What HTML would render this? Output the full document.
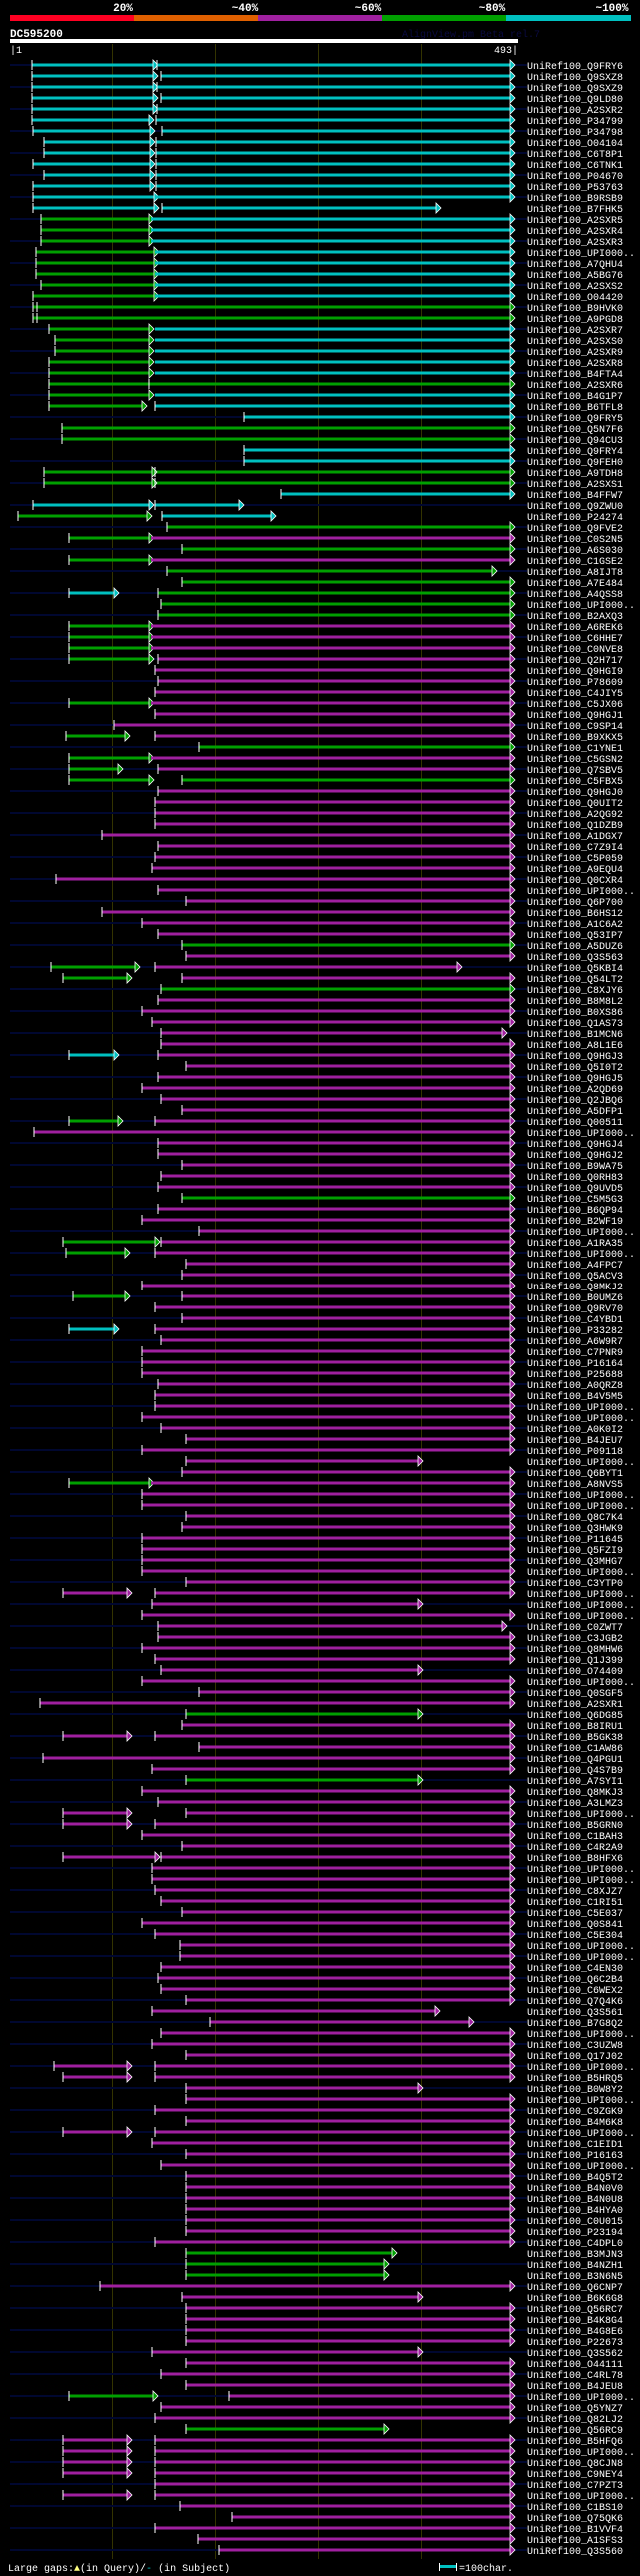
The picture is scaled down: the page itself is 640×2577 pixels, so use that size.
<!DOCTYPE html>
<html><head><meta charset="utf-8"><style>
html,body{margin:0;padding:0;background:#000;}
svg{display:block}
.c{fill:#00c0c0}.g{fill:#00a000}.m{fill:#a020a0}
text{font-family:"Liberation Mono","DejaVu Sans Mono",monospace;fill:#fff}
.l{font-size:10px}
</style></head><body>
<svg width="640" height="2577" viewBox="0 0 640 2577" xmlns="http://www.w3.org/2000/svg">
<defs>
<rect id="T" x="-0.5" y="-5" width="1" height="10" fill="#fff"/>
<polygon id="Ac" points="0,-5 5,0 0,5" fill="#00c0c0" stroke="#fff" stroke-width="0.8"/>
<polygon id="Ag" points="0,-5 5,0 0,5" fill="#00a000" stroke="#fff" stroke-width="0.8"/>
<polygon id="Am" points="0,-5 5,0 0,5" fill="#a020a0" stroke="#fff" stroke-width="0.8"/>
<rect id="N" x="10" y="-1" width="517" height="2" fill="#000730"/>
</defs>
<rect width="640" height="2577" fill="#000"/>
<!-- header -->
<g font-family="Liberation Mono,monospace" font-weight="bold" font-size="11" fill="#fff" text-anchor="middle">
<text x="123" y="11">20%</text><text x="245" y="11">~40%</text><text x="368" y="11">~60%</text><text x="492" y="11">~80%</text><text x="612" y="11">~100%</text>
</g>
<rect x="10" y="15" width="124" height="6" fill="#ff0022"/>
<rect x="134" y="15" width="124" height="6" fill="#e06000"/>
<rect x="258" y="15" width="124" height="6" fill="#a020a0"/>
<rect x="382" y="15" width="124" height="6" fill="#00a000"/>
<rect x="506" y="15" width="125" height="6" fill="#00c0c0"/>
<text x="10" y="37" font-size="11" font-weight="bold">DC595200</text>
<text x="402" y="37" font-size="10" style="fill:#0a0a40">AlignView.pm Beta rel.7</text>
<rect x="10" y="39" width="508" height="4" fill="#fff"/>
<text x="10" y="53" font-size="10">|1</text>
<text x="518" y="53" font-size="10" text-anchor="end">493|</text>
<g fill="#333300">
<rect x="112" y="44" width="1" height="2516"/><rect x="215" y="44" width="1" height="2516"/><rect x="318" y="44" width="1" height="2516"/><rect x="421" y="44" width="1" height="2516"/>
</g>

<g transform="translate(0,65)"><use href="#N"/><rect class="c" x="32" y="-1.5" width="121" height="3"/><use href="#T" x="32"/><use href="#Ac" x="153"/><rect class="c" x="157" y="-1.5" width="353" height="3"/><use href="#T" x="157"/><use href="#Ac" x="510"/><text class="l" x="527" y="4">UniRef100_Q9FRY6</text></g>
<g transform="translate(0,76)"><rect class="c" x="32" y="-1.5" width="121" height="3"/><use href="#T" x="32"/><use href="#Ac" x="153"/><rect class="c" x="161" y="-1.5" width="349" height="3"/><use href="#T" x="161"/><use href="#Ac" x="510"/><text class="l" x="527" y="4">UniRef100_Q9SXZ8</text></g>
<g transform="translate(0,87)"><use href="#N"/><rect class="c" x="32" y="-1.5" width="121" height="3"/><use href="#T" x="32"/><use href="#Ac" x="153"/><rect class="c" x="157" y="-1.5" width="353" height="3"/><use href="#T" x="157"/><use href="#Ac" x="510"/><text class="l" x="527" y="4">UniRef100_Q9SXZ9</text></g>
<g transform="translate(0,98)"><rect class="c" x="32" y="-1.5" width="121" height="3"/><use href="#T" x="32"/><use href="#Ac" x="153"/><rect class="c" x="161" y="-1.5" width="349" height="3"/><use href="#T" x="161"/><use href="#Ac" x="510"/><text class="l" x="527" y="4">UniRef100_Q9LD80</text></g>
<g transform="translate(0,109)"><use href="#N"/><rect class="c" x="32" y="-1.5" width="121" height="3"/><use href="#T" x="32"/><use href="#Ac" x="153"/><rect class="c" x="157" y="-1.5" width="353" height="3"/><use href="#T" x="157"/><use href="#Ac" x="510"/><text class="l" x="527" y="4">UniRef100_A2SXR2</text></g>
<g transform="translate(0,120)"><rect class="c" x="32" y="-1.5" width="117" height="3"/><use href="#T" x="32"/><use href="#Ac" x="149"/><rect class="c" x="156" y="-1.5" width="354" height="3"/><use href="#T" x="156"/><use href="#Ac" x="510"/><text class="l" x="527" y="4">UniRef100_P34799</text></g>
<g transform="translate(0,131)"><use href="#N"/><rect class="c" x="33" y="-1.5" width="117" height="3"/><use href="#T" x="33"/><use href="#Ac" x="150"/><rect class="c" x="162" y="-1.5" width="348" height="3"/><use href="#T" x="162"/><use href="#Ac" x="510"/><text class="l" x="527" y="4">UniRef100_P34798</text></g>
<g transform="translate(0,142)"><rect class="c" x="44" y="-1.5" width="106" height="3"/><use href="#T" x="44"/><use href="#Ac" x="150"/><rect class="c" x="156" y="-1.5" width="354" height="3"/><use href="#T" x="156"/><use href="#Ac" x="510"/><text class="l" x="527" y="4">UniRef100_O04104</text></g>
<g transform="translate(0,153)"><use href="#N"/><rect class="c" x="44" y="-1.5" width="106" height="3"/><use href="#T" x="44"/><use href="#Ac" x="150"/><rect class="c" x="156" y="-1.5" width="354" height="3"/><use href="#T" x="156"/><use href="#Ac" x="510"/><text class="l" x="527" y="4">UniRef100_C6T8P1</text></g>
<g transform="translate(0,164)"><rect class="c" x="33" y="-1.5" width="117" height="3"/><use href="#T" x="33"/><use href="#Ac" x="150"/><rect class="c" x="156" y="-1.5" width="354" height="3"/><use href="#T" x="156"/><use href="#Ac" x="510"/><text class="l" x="527" y="4">UniRef100_C6TNK1</text></g>
<g transform="translate(0,175)"><use href="#N"/><rect class="c" x="44" y="-1.5" width="106" height="3"/><use href="#T" x="44"/><use href="#Ac" x="150"/><rect class="c" x="156" y="-1.5" width="354" height="3"/><use href="#T" x="156"/><use href="#Ac" x="510"/><text class="l" x="527" y="4">UniRef100_P04670</text></g>
<g transform="translate(0,186)"><rect class="c" x="33" y="-1.5" width="117" height="3"/><use href="#T" x="33"/><use href="#Ac" x="150"/><rect class="c" x="156" y="-1.5" width="354" height="3"/><use href="#T" x="156"/><use href="#Ac" x="510"/><text class="l" x="527" y="4">UniRef100_P53763</text></g>
<g transform="translate(0,197)"><use href="#N"/><rect class="c" x="33" y="-1.5" width="121" height="3"/><use href="#T" x="33"/><use href="#Ac" x="154"/><rect class="c" x="155" y="-1.5" width="355" height="3"/><use href="#Ac" x="510"/><text class="l" x="527" y="4">UniRef100_B9RSB9</text></g>
<g transform="translate(0,208)"><rect class="c" x="33" y="-1.5" width="121" height="3"/><use href="#T" x="33"/><use href="#Ac" x="154"/><rect class="c" x="162" y="-1.5" width="274" height="3"/><use href="#T" x="162"/><use href="#Ac" x="436"/><text class="l" x="527" y="4">UniRef100_B7FHK5</text></g>
<g transform="translate(0,219)"><use href="#N"/><rect class="g" x="41" y="-1.5" width="108" height="3"/><use href="#T" x="41"/><use href="#Ag" x="149"/><rect class="c" x="151" y="-1.5" width="359" height="3"/><use href="#Ac" x="510"/><text class="l" x="527" y="4">UniRef100_A2SXR5</text></g>
<g transform="translate(0,230)"><rect class="g" x="41" y="-1.5" width="108" height="3"/><use href="#T" x="41"/><use href="#Ag" x="149"/><rect class="c" x="151" y="-1.5" width="359" height="3"/><use href="#Ac" x="510"/><text class="l" x="527" y="4">UniRef100_A2SXR4</text></g>
<g transform="translate(0,241)"><use href="#N"/><rect class="g" x="41" y="-1.5" width="108" height="3"/><use href="#T" x="41"/><use href="#Ag" x="149"/><rect class="c" x="151" y="-1.5" width="359" height="3"/><use href="#Ac" x="510"/><text class="l" x="527" y="4">UniRef100_A2SXR3</text></g>
<g transform="translate(0,252)"><rect class="g" x="36" y="-1.5" width="118" height="3"/><use href="#T" x="36"/><use href="#Ag" x="154"/><rect class="c" x="155" y="-1.5" width="355" height="3"/><use href="#Ac" x="510"/><text class="l" x="527" y="4">UniRef100_UPI000..</text></g>
<g transform="translate(0,263)"><use href="#N"/><rect class="g" x="36" y="-1.5" width="118" height="3"/><use href="#T" x="36"/><use href="#Ag" x="154"/><rect class="c" x="155" y="-1.5" width="355" height="3"/><use href="#Ac" x="510"/><text class="l" x="527" y="4">UniRef100_A7QHU4</text></g>
<g transform="translate(0,274)"><rect class="g" x="36" y="-1.5" width="118" height="3"/><use href="#T" x="36"/><use href="#Ag" x="154"/><rect class="c" x="155" y="-1.5" width="355" height="3"/><use href="#Ac" x="510"/><text class="l" x="527" y="4">UniRef100_A5BG76</text></g>
<g transform="translate(0,285)"><use href="#N"/><rect class="g" x="41" y="-1.5" width="113" height="3"/><use href="#T" x="41"/><use href="#Ag" x="154"/><rect class="c" x="155" y="-1.5" width="355" height="3"/><use href="#Ac" x="510"/><text class="l" x="527" y="4">UniRef100_A2SXS2</text></g>
<g transform="translate(0,296)"><rect class="g" x="33" y="-1.5" width="121" height="3"/><use href="#T" x="33"/><use href="#Ag" x="154"/><rect class="c" x="155" y="-1.5" width="355" height="3"/><use href="#Ac" x="510"/><text class="l" x="527" y="4">UniRef100_O04420</text></g>
<g transform="translate(0,307)"><use href="#N"/><rect class="g" x="33" y="-1.5" width="477" height="3"/><use href="#T" x="33"/><use href="#T" x="37"/><use href="#Ag" x="510"/><text class="l" x="527" y="4">UniRef100_B9HVK0</text></g>
<g transform="translate(0,318)"><rect class="g" x="33" y="-1.5" width="477" height="3"/><use href="#T" x="33"/><use href="#T" x="37"/><use href="#Ag" x="510"/><text class="l" x="527" y="4">UniRef100_A9PGD8</text></g>
<g transform="translate(0,329)"><use href="#N"/><rect class="g" x="49" y="-1.5" width="100" height="3"/><use href="#T" x="49"/><use href="#Ag" x="149"/><rect class="c" x="155" y="-1.5" width="355" height="3"/><use href="#Ac" x="510"/><text class="l" x="527" y="4">UniRef100_A2SXR7</text></g>
<g transform="translate(0,340)"><rect class="g" x="55" y="-1.5" width="94" height="3"/><use href="#T" x="55"/><use href="#Ag" x="149"/><rect class="c" x="155" y="-1.5" width="355" height="3"/><use href="#Ac" x="510"/><text class="l" x="527" y="4">UniRef100_A2SXS0</text></g>
<g transform="translate(0,351)"><use href="#N"/><rect class="g" x="55" y="-1.5" width="94" height="3"/><use href="#T" x="55"/><use href="#Ag" x="149"/><rect class="c" x="155" y="-1.5" width="355" height="3"/><use href="#Ac" x="510"/><text class="l" x="527" y="4">UniRef100_A2SXR9</text></g>
<g transform="translate(0,362)"><rect class="g" x="49" y="-1.5" width="100" height="3"/><use href="#T" x="49"/><use href="#Ag" x="149"/><rect class="c" x="155" y="-1.5" width="355" height="3"/><use href="#Ac" x="510"/><text class="l" x="527" y="4">UniRef100_A2SXR8</text></g>
<g transform="translate(0,373)"><use href="#N"/><rect class="g" x="49" y="-1.5" width="100" height="3"/><use href="#T" x="49"/><use href="#Ag" x="149"/><rect class="c" x="155" y="-1.5" width="355" height="3"/><use href="#Ac" x="510"/><text class="l" x="527" y="4">UniRef100_B4FTA4</text></g>
<g transform="translate(0,384)"><rect class="g" x="49" y="-1.5" width="461" height="3"/><use href="#T" x="49"/><use href="#T" x="149"/><use href="#Ag" x="510"/><text class="l" x="527" y="4">UniRef100_A2SXR6</text></g>
<g transform="translate(0,395)"><use href="#N"/><rect class="g" x="49" y="-1.5" width="100" height="3"/><use href="#T" x="49"/><use href="#Ag" x="149"/><rect class="c" x="155" y="-1.5" width="355" height="3"/><use href="#Ac" x="510"/><text class="l" x="527" y="4">UniRef100_B4G1P7</text></g>
<g transform="translate(0,406)"><rect class="g" x="49" y="-1.5" width="93" height="3"/><use href="#T" x="49"/><use href="#Ag" x="142"/><rect class="c" x="155" y="-1.5" width="355" height="3"/><use href="#T" x="155"/><use href="#Ac" x="510"/><text class="l" x="527" y="4">UniRef100_B6TFL8</text></g>
<g transform="translate(0,417)"><use href="#N"/><rect class="c" x="244" y="-1.5" width="266" height="3"/><use href="#T" x="244"/><use href="#Ac" x="510"/><text class="l" x="527" y="4">UniRef100_Q9FRY5</text></g>
<g transform="translate(0,428)"><rect class="g" x="62" y="-1.5" width="448" height="3"/><use href="#T" x="62"/><use href="#Ag" x="510"/><text class="l" x="527" y="4">UniRef100_Q5N7F6</text></g>
<g transform="translate(0,439)"><use href="#N"/><rect class="g" x="62" y="-1.5" width="448" height="3"/><use href="#T" x="62"/><use href="#Ag" x="510"/><text class="l" x="527" y="4">UniRef100_Q94CU3</text></g>
<g transform="translate(0,450)"><rect class="c" x="244" y="-1.5" width="266" height="3"/><use href="#T" x="244"/><use href="#Ac" x="510"/><text class="l" x="527" y="4">UniRef100_Q9FRY4</text></g>
<g transform="translate(0,461)"><use href="#N"/><rect class="c" x="244" y="-1.5" width="266" height="3"/><use href="#T" x="244"/><use href="#Ac" x="510"/><text class="l" x="527" y="4">UniRef100_Q9FEH0</text></g>
<g transform="translate(0,472)"><rect class="g" x="44" y="-1.5" width="466" height="3"/><use href="#T" x="44"/><use href="#Ag" x="152"/><use href="#T" x="155"/><use href="#Ag" x="510"/><text class="l" x="527" y="4">UniRef100_A9TDH8</text></g>
<g transform="translate(0,483)"><use href="#N"/><rect class="g" x="44" y="-1.5" width="466" height="3"/><use href="#T" x="44"/><use href="#Ag" x="152"/><use href="#T" x="155"/><use href="#Ag" x="510"/><text class="l" x="527" y="4">UniRef100_A2SXS1</text></g>
<g transform="translate(0,494)"><rect class="c" x="281" y="-1.5" width="229" height="3"/><use href="#T" x="281"/><use href="#Ac" x="510"/><text class="l" x="527" y="4">UniRef100_B4FFW7</text></g>
<g transform="translate(0,505)"><use href="#N"/><rect class="c" x="33" y="-1.5" width="116" height="3"/><use href="#T" x="33"/><use href="#Ac" x="149"/><rect class="c" x="155" y="-1.5" width="84" height="3"/><use href="#T" x="155"/><use href="#Ac" x="239"/><text class="l" x="527" y="4">UniRef100_Q9ZWU0</text></g>
<g transform="translate(0,516)"><rect class="g" x="18" y="-1.5" width="129" height="3"/><use href="#T" x="18"/><use href="#Ag" x="147"/><rect class="c" x="162" y="-1.5" width="109" height="3"/><use href="#T" x="162"/><use href="#Ac" x="271"/><text class="l" x="527" y="4">UniRef100_P24274</text></g>
<g transform="translate(0,527)"><use href="#N"/><rect class="g" x="167" y="-1.5" width="343" height="3"/><use href="#T" x="167"/><use href="#Ag" x="510"/><text class="l" x="527" y="4">UniRef100_Q9FVE2</text></g>
<g transform="translate(0,538)"><rect class="g" x="69" y="-1.5" width="80" height="3"/><use href="#T" x="69"/><use href="#Ag" x="149"/><rect class="m" x="151" y="-1.5" width="359" height="3"/><use href="#Am" x="510"/><text class="l" x="527" y="4">UniRef100_C0S2N5</text></g>
<g transform="translate(0,549)"><use href="#N"/><rect class="g" x="182" y="-1.5" width="328" height="3"/><use href="#T" x="182"/><use href="#Ag" x="510"/><text class="l" x="527" y="4">UniRef100_A6S030</text></g>
<g transform="translate(0,560)"><rect class="g" x="69" y="-1.5" width="80" height="3"/><use href="#T" x="69"/><use href="#Ag" x="149"/><rect class="m" x="151" y="-1.5" width="359" height="3"/><use href="#Am" x="510"/><text class="l" x="527" y="4">UniRef100_C1GSE2</text></g>
<g transform="translate(0,571)"><use href="#N"/><rect class="g" x="167" y="-1.5" width="325" height="3"/><use href="#T" x="167"/><use href="#Ag" x="492"/><text class="l" x="527" y="4">UniRef100_A8IJT8</text></g>
<g transform="translate(0,582)"><rect class="g" x="182" y="-1.5" width="328" height="3"/><use href="#T" x="182"/><use href="#Ag" x="510"/><text class="l" x="527" y="4">UniRef100_A7E484</text></g>
<g transform="translate(0,593)"><use href="#N"/><rect class="c" x="69" y="-1.5" width="45" height="3"/><use href="#T" x="69"/><use href="#Ac" x="114"/><rect class="g" x="158" y="-1.5" width="352" height="3"/><use href="#T" x="158"/><use href="#Ag" x="510"/><text class="l" x="527" y="4">UniRef100_A4QSS8</text></g>
<g transform="translate(0,604)"><rect class="g" x="161" y="-1.5" width="349" height="3"/><use href="#T" x="161"/><use href="#Ag" x="510"/><text class="l" x="527" y="4">UniRef100_UPI000..</text></g>
<g transform="translate(0,615)"><use href="#N"/><rect class="g" x="158" y="-1.5" width="352" height="3"/><use href="#T" x="158"/><use href="#Ag" x="510"/><text class="l" x="527" y="4">UniRef100_B2AXQ3</text></g>
<g transform="translate(0,626)"><rect class="g" x="69" y="-1.5" width="80" height="3"/><use href="#T" x="69"/><use href="#Ag" x="149"/><rect class="m" x="151" y="-1.5" width="359" height="3"/><use href="#Am" x="510"/><text class="l" x="527" y="4">UniRef100_A6REK6</text></g>
<g transform="translate(0,637)"><use href="#N"/><rect class="g" x="69" y="-1.5" width="80" height="3"/><use href="#T" x="69"/><use href="#Ag" x="149"/><rect class="m" x="151" y="-1.5" width="359" height="3"/><use href="#Am" x="510"/><text class="l" x="527" y="4">UniRef100_C6HHE7</text></g>
<g transform="translate(0,648)"><rect class="g" x="69" y="-1.5" width="80" height="3"/><use href="#T" x="69"/><use href="#Ag" x="149"/><rect class="m" x="151" y="-1.5" width="359" height="3"/><use href="#Am" x="510"/><text class="l" x="527" y="4">UniRef100_C0NVE8</text></g>
<g transform="translate(0,659)"><use href="#N"/><rect class="g" x="69" y="-1.5" width="80" height="3"/><use href="#T" x="69"/><use href="#Ag" x="149"/><rect class="m" x="158" y="-1.5" width="352" height="3"/><use href="#T" x="158"/><use href="#Am" x="510"/><text class="l" x="527" y="4">UniRef100_Q2H717</text></g>
<g transform="translate(0,670)"><rect class="m" x="155" y="-1.5" width="355" height="3"/><use href="#T" x="155"/><use href="#Am" x="510"/><text class="l" x="527" y="4">UniRef100_Q9HGI9</text></g>
<g transform="translate(0,681)"><use href="#N"/><rect class="m" x="158" y="-1.5" width="352" height="3"/><use href="#T" x="158"/><use href="#Am" x="510"/><text class="l" x="527" y="4">UniRef100_P78609</text></g>
<g transform="translate(0,692)"><rect class="m" x="155" y="-1.5" width="355" height="3"/><use href="#T" x="155"/><use href="#Am" x="510"/><text class="l" x="527" y="4">UniRef100_C4JIY5</text></g>
<g transform="translate(0,703)"><use href="#N"/><rect class="g" x="69" y="-1.5" width="80" height="3"/><use href="#T" x="69"/><use href="#Ag" x="149"/><rect class="m" x="151" y="-1.5" width="359" height="3"/><use href="#Am" x="510"/><text class="l" x="527" y="4">UniRef100_C5JX06</text></g>
<g transform="translate(0,714)"><rect class="m" x="155" y="-1.5" width="355" height="3"/><use href="#T" x="155"/><use href="#Am" x="510"/><text class="l" x="527" y="4">UniRef100_Q9HGJ1</text></g>
<g transform="translate(0,725)"><use href="#N"/><rect class="m" x="114" y="-1.5" width="396" height="3"/><use href="#T" x="114"/><use href="#Am" x="510"/><text class="l" x="527" y="4">UniRef100_C9SP14</text></g>
<g transform="translate(0,736)"><rect class="g" x="66" y="-1.5" width="59" height="3"/><use href="#T" x="66"/><use href="#Ag" x="125"/><rect class="m" x="155" y="-1.5" width="355" height="3"/><use href="#T" x="155"/><use href="#Am" x="510"/><text class="l" x="527" y="4">UniRef100_B9XKX5</text></g>
<g transform="translate(0,747)"><use href="#N"/><rect class="g" x="199" y="-1.5" width="311" height="3"/><use href="#T" x="199"/><use href="#Ag" x="510"/><text class="l" x="527" y="4">UniRef100_C1YNE1</text></g>
<g transform="translate(0,758)"><rect class="g" x="69" y="-1.5" width="80" height="3"/><use href="#T" x="69"/><use href="#Ag" x="149"/><rect class="m" x="151" y="-1.5" width="359" height="3"/><use href="#Am" x="510"/><text class="l" x="527" y="4">UniRef100_C5GSN2</text></g>
<g transform="translate(0,769)"><use href="#N"/><rect class="g" x="69" y="-1.5" width="49" height="3"/><use href="#T" x="69"/><use href="#Ag" x="118"/><rect class="m" x="158" y="-1.5" width="352" height="3"/><use href="#T" x="158"/><use href="#Am" x="510"/><text class="l" x="527" y="4">UniRef100_Q7SBV5</text></g>
<g transform="translate(0,780)"><rect class="g" x="69" y="-1.5" width="80" height="3"/><use href="#T" x="69"/><use href="#Ag" x="149"/><rect class="g" x="182" y="-1.5" width="328" height="3"/><use href="#T" x="182"/><use href="#Ag" x="510"/><text class="l" x="527" y="4">UniRef100_C5FBX5</text></g>
<g transform="translate(0,791)"><use href="#N"/><rect class="m" x="158" y="-1.5" width="352" height="3"/><use href="#T" x="158"/><use href="#Am" x="510"/><text class="l" x="527" y="4">UniRef100_Q9HGJ0</text></g>
<g transform="translate(0,802)"><rect class="m" x="155" y="-1.5" width="355" height="3"/><use href="#T" x="155"/><use href="#Am" x="510"/><text class="l" x="527" y="4">UniRef100_Q0UIT2</text></g>
<g transform="translate(0,813)"><use href="#N"/><rect class="m" x="155" y="-1.5" width="355" height="3"/><use href="#T" x="155"/><use href="#Am" x="510"/><text class="l" x="527" y="4">UniRef100_A2QG92</text></g>
<g transform="translate(0,824)"><rect class="m" x="155" y="-1.5" width="355" height="3"/><use href="#T" x="155"/><use href="#Am" x="510"/><text class="l" x="527" y="4">UniRef100_Q1DZB9</text></g>
<g transform="translate(0,835)"><use href="#N"/><rect class="m" x="102" y="-1.5" width="408" height="3"/><use href="#T" x="102"/><use href="#Am" x="510"/><text class="l" x="527" y="4">UniRef100_A1DGX7</text></g>
<g transform="translate(0,846)"><rect class="m" x="158" y="-1.5" width="352" height="3"/><use href="#T" x="158"/><use href="#Am" x="510"/><text class="l" x="527" y="4">UniRef100_C7Z9I4</text></g>
<g transform="translate(0,857)"><use href="#N"/><rect class="m" x="155" y="-1.5" width="355" height="3"/><use href="#T" x="155"/><use href="#Am" x="510"/><text class="l" x="527" y="4">UniRef100_C5P059</text></g>
<g transform="translate(0,868)"><rect class="m" x="152" y="-1.5" width="358" height="3"/><use href="#T" x="152"/><use href="#Am" x="510"/><text class="l" x="527" y="4">UniRef100_A9EQU4</text></g>
<g transform="translate(0,879)"><use href="#N"/><rect class="m" x="56" y="-1.5" width="454" height="3"/><use href="#T" x="56"/><use href="#Am" x="510"/><text class="l" x="527" y="4">UniRef100_Q0CXR4</text></g>
<g transform="translate(0,890)"><rect class="m" x="158" y="-1.5" width="352" height="3"/><use href="#T" x="158"/><use href="#Am" x="510"/><text class="l" x="527" y="4">UniRef100_UPI000..</text></g>
<g transform="translate(0,901)"><use href="#N"/><rect class="m" x="186" y="-1.5" width="324" height="3"/><use href="#T" x="186"/><use href="#Am" x="510"/><text class="l" x="527" y="4">UniRef100_Q6P700</text></g>
<g transform="translate(0,912)"><rect class="m" x="102" y="-1.5" width="408" height="3"/><use href="#T" x="102"/><use href="#Am" x="510"/><text class="l" x="527" y="4">UniRef100_B6HS12</text></g>
<g transform="translate(0,923)"><use href="#N"/><rect class="m" x="142" y="-1.5" width="368" height="3"/><use href="#T" x="142"/><use href="#Am" x="510"/><text class="l" x="527" y="4">UniRef100_A1C6A2</text></g>
<g transform="translate(0,934)"><rect class="m" x="158" y="-1.5" width="352" height="3"/><use href="#T" x="158"/><use href="#Am" x="510"/><text class="l" x="527" y="4">UniRef100_Q53IP7</text></g>
<g transform="translate(0,945)"><use href="#N"/><rect class="g" x="182" y="-1.5" width="328" height="3"/><use href="#T" x="182"/><use href="#Ag" x="510"/><text class="l" x="527" y="4">UniRef100_A5DUZ6</text></g>
<g transform="translate(0,956)"><rect class="m" x="186" y="-1.5" width="324" height="3"/><use href="#T" x="186"/><use href="#Am" x="510"/><text class="l" x="527" y="4">UniRef100_Q3S563</text></g>
<g transform="translate(0,967)"><use href="#N"/><rect class="g" x="51" y="-1.5" width="84" height="3"/><use href="#T" x="51"/><use href="#Ag" x="135"/><rect class="m" x="155" y="-1.5" width="302" height="3"/><use href="#T" x="155"/><use href="#Am" x="457"/><text class="l" x="527" y="4">UniRef100_Q5KBI4</text></g>
<g transform="translate(0,978)"><rect class="g" x="63" y="-1.5" width="64" height="3"/><use href="#T" x="63"/><use href="#Ag" x="127"/><rect class="m" x="182" y="-1.5" width="328" height="3"/><use href="#T" x="182"/><use href="#Am" x="510"/><text class="l" x="527" y="4">UniRef100_Q54LT2</text></g>
<g transform="translate(0,989)"><use href="#N"/><rect class="g" x="161" y="-1.5" width="349" height="3"/><use href="#T" x="161"/><use href="#Ag" x="510"/><text class="l" x="527" y="4">UniRef100_C8XJY6</text></g>
<g transform="translate(0,1000)"><rect class="m" x="158" y="-1.5" width="352" height="3"/><use href="#T" x="158"/><use href="#Am" x="510"/><text class="l" x="527" y="4">UniRef100_B8M8L2</text></g>
<g transform="translate(0,1011)"><use href="#N"/><rect class="m" x="142" y="-1.5" width="368" height="3"/><use href="#T" x="142"/><use href="#Am" x="510"/><text class="l" x="527" y="4">UniRef100_B0XS86</text></g>
<g transform="translate(0,1022)"><rect class="m" x="152" y="-1.5" width="358" height="3"/><use href="#T" x="152"/><use href="#Am" x="510"/><text class="l" x="527" y="4">UniRef100_Q1AS73</text></g>
<g transform="translate(0,1033)"><use href="#N"/><rect class="m" x="161" y="-1.5" width="341" height="3"/><use href="#T" x="161"/><use href="#Am" x="502"/><text class="l" x="527" y="4">UniRef100_B1MCN6</text></g>
<g transform="translate(0,1044)"><rect class="m" x="161" y="-1.5" width="349" height="3"/><use href="#T" x="161"/><use href="#Am" x="510"/><text class="l" x="527" y="4">UniRef100_A8L1E6</text></g>
<g transform="translate(0,1055)"><use href="#N"/><rect class="c" x="69" y="-1.5" width="45" height="3"/><use href="#T" x="69"/><use href="#Ac" x="114"/><rect class="m" x="158" y="-1.5" width="352" height="3"/><use href="#T" x="158"/><use href="#Am" x="510"/><text class="l" x="527" y="4">UniRef100_Q9HGJ3</text></g>
<g transform="translate(0,1066)"><rect class="m" x="186" y="-1.5" width="324" height="3"/><use href="#T" x="186"/><use href="#Am" x="510"/><text class="l" x="527" y="4">UniRef100_Q5I0T2</text></g>
<g transform="translate(0,1077)"><use href="#N"/><rect class="m" x="158" y="-1.5" width="352" height="3"/><use href="#T" x="158"/><use href="#Am" x="510"/><text class="l" x="527" y="4">UniRef100_Q9HGJ5</text></g>
<g transform="translate(0,1088)"><rect class="m" x="142" y="-1.5" width="368" height="3"/><use href="#T" x="142"/><use href="#Am" x="510"/><text class="l" x="527" y="4">UniRef100_A2QD69</text></g>
<g transform="translate(0,1099)"><use href="#N"/><rect class="m" x="161" y="-1.5" width="349" height="3"/><use href="#T" x="161"/><use href="#Am" x="510"/><text class="l" x="527" y="4">UniRef100_Q2JBQ6</text></g>
<g transform="translate(0,1110)"><rect class="m" x="182" y="-1.5" width="328" height="3"/><use href="#T" x="182"/><use href="#Am" x="510"/><text class="l" x="527" y="4">UniRef100_A5DFP1</text></g>
<g transform="translate(0,1121)"><use href="#N"/><rect class="g" x="69" y="-1.5" width="49" height="3"/><use href="#T" x="69"/><use href="#Ag" x="118"/><rect class="m" x="155" y="-1.5" width="355" height="3"/><use href="#T" x="155"/><use href="#Am" x="510"/><text class="l" x="527" y="4">UniRef100_Q00511</text></g>
<g transform="translate(0,1132)"><rect class="m" x="34" y="-1.5" width="476" height="3"/><use href="#T" x="34"/><use href="#Am" x="510"/><text class="l" x="527" y="4">UniRef100_UPI000..</text></g>
<g transform="translate(0,1143)"><use href="#N"/><rect class="m" x="158" y="-1.5" width="352" height="3"/><use href="#T" x="158"/><use href="#Am" x="510"/><text class="l" x="527" y="4">UniRef100_Q9HGJ4</text></g>
<g transform="translate(0,1154)"><rect class="m" x="158" y="-1.5" width="352" height="3"/><use href="#T" x="158"/><use href="#Am" x="510"/><text class="l" x="527" y="4">UniRef100_Q9HGJ2</text></g>
<g transform="translate(0,1165)"><use href="#N"/><rect class="m" x="182" y="-1.5" width="328" height="3"/><use href="#T" x="182"/><use href="#Am" x="510"/><text class="l" x="527" y="4">UniRef100_B9WA75</text></g>
<g transform="translate(0,1176)"><rect class="m" x="161" y="-1.5" width="349" height="3"/><use href="#T" x="161"/><use href="#Am" x="510"/><text class="l" x="527" y="4">UniRef100_Q0RH83</text></g>
<g transform="translate(0,1187)"><use href="#N"/><rect class="m" x="158" y="-1.5" width="352" height="3"/><use href="#T" x="158"/><use href="#Am" x="510"/><text class="l" x="527" y="4">UniRef100_Q9UVD5</text></g>
<g transform="translate(0,1198)"><rect class="g" x="182" y="-1.5" width="328" height="3"/><use href="#T" x="182"/><use href="#Ag" x="510"/><text class="l" x="527" y="4">UniRef100_C5M5G3</text></g>
<g transform="translate(0,1209)"><use href="#N"/><rect class="m" x="158" y="-1.5" width="352" height="3"/><use href="#T" x="158"/><use href="#Am" x="510"/><text class="l" x="527" y="4">UniRef100_B6QP94</text></g>
<g transform="translate(0,1220)"><rect class="m" x="142" y="-1.5" width="368" height="3"/><use href="#T" x="142"/><use href="#Am" x="510"/><text class="l" x="527" y="4">UniRef100_B2WF19</text></g>
<g transform="translate(0,1231)"><use href="#N"/><rect class="m" x="199" y="-1.5" width="311" height="3"/><use href="#T" x="199"/><use href="#Am" x="510"/><text class="l" x="527" y="4">UniRef100_UPI000..</text></g>
<g transform="translate(0,1242)"><rect class="g" x="63" y="-1.5" width="93" height="3"/><use href="#T" x="63"/><use href="#Ag" x="155"/><rect class="m" x="161" y="-1.5" width="349" height="3"/><use href="#T" x="161"/><use href="#Am" x="510"/><text class="l" x="527" y="4">UniRef100_A1RA35</text></g>
<g transform="translate(0,1253)"><use href="#N"/><rect class="g" x="66" y="-1.5" width="59" height="3"/><use href="#T" x="66"/><use href="#Ag" x="125"/><rect class="m" x="155" y="-1.5" width="355" height="3"/><use href="#T" x="155"/><use href="#Am" x="510"/><text class="l" x="527" y="4">UniRef100_UPI000..</text></g>
<g transform="translate(0,1264)"><rect class="m" x="186" y="-1.5" width="324" height="3"/><use href="#T" x="186"/><use href="#Am" x="510"/><text class="l" x="527" y="4">UniRef100_A4FPC7</text></g>
<g transform="translate(0,1275)"><use href="#N"/><rect class="m" x="182" y="-1.5" width="328" height="3"/><use href="#T" x="182"/><use href="#Am" x="510"/><text class="l" x="527" y="4">UniRef100_Q5ACV3</text></g>
<g transform="translate(0,1286)"><rect class="m" x="142" y="-1.5" width="368" height="3"/><use href="#T" x="142"/><use href="#Am" x="510"/><text class="l" x="527" y="4">UniRef100_Q8MKJ2</text></g>
<g transform="translate(0,1297)"><use href="#N"/><rect class="g" x="73" y="-1.5" width="52" height="3"/><use href="#T" x="73"/><use href="#Ag" x="125"/><rect class="m" x="182" y="-1.5" width="328" height="3"/><use href="#T" x="182"/><use href="#Am" x="510"/><text class="l" x="527" y="4">UniRef100_B0UMZ6</text></g>
<g transform="translate(0,1308)"><rect class="m" x="155" y="-1.5" width="355" height="3"/><use href="#T" x="155"/><use href="#Am" x="510"/><text class="l" x="527" y="4">UniRef100_Q9RV70</text></g>
<g transform="translate(0,1319)"><use href="#N"/><rect class="m" x="182" y="-1.5" width="328" height="3"/><use href="#T" x="182"/><use href="#Am" x="510"/><text class="l" x="527" y="4">UniRef100_C4YBD1</text></g>
<g transform="translate(0,1330)"><rect class="c" x="69" y="-1.5" width="45" height="3"/><use href="#T" x="69"/><use href="#Ac" x="114"/><rect class="m" x="155" y="-1.5" width="355" height="3"/><use href="#T" x="155"/><use href="#Am" x="510"/><text class="l" x="527" y="4">UniRef100_P33282</text></g>
<g transform="translate(0,1341)"><use href="#N"/><rect class="m" x="161" y="-1.5" width="349" height="3"/><use href="#T" x="161"/><use href="#Am" x="510"/><text class="l" x="527" y="4">UniRef100_A6W9R7</text></g>
<g transform="translate(0,1352)"><rect class="m" x="142" y="-1.5" width="368" height="3"/><use href="#T" x="142"/><use href="#Am" x="510"/><text class="l" x="527" y="4">UniRef100_C7PNR9</text></g>
<g transform="translate(0,1363)"><use href="#N"/><rect class="m" x="142" y="-1.5" width="368" height="3"/><use href="#T" x="142"/><use href="#Am" x="510"/><text class="l" x="527" y="4">UniRef100_P16164</text></g>
<g transform="translate(0,1374)"><rect class="m" x="142" y="-1.5" width="368" height="3"/><use href="#T" x="142"/><use href="#Am" x="510"/><text class="l" x="527" y="4">UniRef100_P25688</text></g>
<g transform="translate(0,1385)"><use href="#N"/><rect class="m" x="158" y="-1.5" width="352" height="3"/><use href="#T" x="158"/><use href="#Am" x="510"/><text class="l" x="527" y="4">UniRef100_A0QRZ8</text></g>
<g transform="translate(0,1396)"><rect class="m" x="155" y="-1.5" width="355" height="3"/><use href="#T" x="155"/><use href="#Am" x="510"/><text class="l" x="527" y="4">UniRef100_B4V5M5</text></g>
<g transform="translate(0,1407)"><use href="#N"/><rect class="m" x="155" y="-1.5" width="355" height="3"/><use href="#T" x="155"/><use href="#Am" x="510"/><text class="l" x="527" y="4">UniRef100_UPI000..</text></g>
<g transform="translate(0,1418)"><rect class="m" x="142" y="-1.5" width="368" height="3"/><use href="#T" x="142"/><use href="#Am" x="510"/><text class="l" x="527" y="4">UniRef100_UPI000..</text></g>
<g transform="translate(0,1429)"><use href="#N"/><rect class="m" x="161" y="-1.5" width="349" height="3"/><use href="#T" x="161"/><use href="#Am" x="510"/><text class="l" x="527" y="4">UniRef100_A0K0I2</text></g>
<g transform="translate(0,1440)"><rect class="m" x="186" y="-1.5" width="324" height="3"/><use href="#T" x="186"/><use href="#Am" x="510"/><text class="l" x="527" y="4">UniRef100_B4JEU7</text></g>
<g transform="translate(0,1451)"><use href="#N"/><rect class="m" x="142" y="-1.5" width="368" height="3"/><use href="#T" x="142"/><use href="#Am" x="510"/><text class="l" x="527" y="4">UniRef100_P09118</text></g>
<g transform="translate(0,1462)"><rect class="m" x="186" y="-1.5" width="232" height="3"/><use href="#T" x="186"/><use href="#Am" x="418"/><text class="l" x="527" y="4">UniRef100_UPI000..</text></g>
<g transform="translate(0,1473)"><use href="#N"/><rect class="m" x="182" y="-1.5" width="328" height="3"/><use href="#T" x="182"/><use href="#Am" x="510"/><text class="l" x="527" y="4">UniRef100_Q6BYT1</text></g>
<g transform="translate(0,1484)"><rect class="g" x="69" y="-1.5" width="80" height="3"/><use href="#T" x="69"/><use href="#Ag" x="149"/><rect class="m" x="151" y="-1.5" width="359" height="3"/><use href="#Am" x="510"/><text class="l" x="527" y="4">UniRef100_A8NVS5</text></g>
<g transform="translate(0,1495)"><use href="#N"/><rect class="m" x="142" y="-1.5" width="368" height="3"/><use href="#T" x="142"/><use href="#Am" x="510"/><text class="l" x="527" y="4">UniRef100_UPI000..</text></g>
<g transform="translate(0,1506)"><rect class="m" x="142" y="-1.5" width="368" height="3"/><use href="#T" x="142"/><use href="#Am" x="510"/><text class="l" x="527" y="4">UniRef100_UPI000..</text></g>
<g transform="translate(0,1517)"><use href="#N"/><rect class="m" x="186" y="-1.5" width="324" height="3"/><use href="#T" x="186"/><use href="#Am" x="510"/><text class="l" x="527" y="4">UniRef100_Q8C7K4</text></g>
<g transform="translate(0,1528)"><rect class="m" x="182" y="-1.5" width="328" height="3"/><use href="#T" x="182"/><use href="#Am" x="510"/><text class="l" x="527" y="4">UniRef100_Q3HWK9</text></g>
<g transform="translate(0,1539)"><use href="#N"/><rect class="m" x="142" y="-1.5" width="368" height="3"/><use href="#T" x="142"/><use href="#Am" x="510"/><text class="l" x="527" y="4">UniRef100_P11645</text></g>
<g transform="translate(0,1550)"><rect class="m" x="142" y="-1.5" width="368" height="3"/><use href="#T" x="142"/><use href="#Am" x="510"/><text class="l" x="527" y="4">UniRef100_Q5FZI9</text></g>
<g transform="translate(0,1561)"><use href="#N"/><rect class="m" x="142" y="-1.5" width="368" height="3"/><use href="#T" x="142"/><use href="#Am" x="510"/><text class="l" x="527" y="4">UniRef100_Q3MHG7</text></g>
<g transform="translate(0,1572)"><rect class="m" x="142" y="-1.5" width="368" height="3"/><use href="#T" x="142"/><use href="#Am" x="510"/><text class="l" x="527" y="4">UniRef100_UPI000..</text></g>
<g transform="translate(0,1583)"><use href="#N"/><rect class="m" x="186" y="-1.5" width="324" height="3"/><use href="#T" x="186"/><use href="#Am" x="510"/><text class="l" x="527" y="4">UniRef100_C3YTP0</text></g>
<g transform="translate(0,1594)"><rect class="m" x="63" y="-1.5" width="64" height="3"/><use href="#T" x="63"/><use href="#Am" x="127"/><rect class="m" x="155" y="-1.5" width="355" height="3"/><use href="#T" x="155"/><use href="#Am" x="510"/><text class="l" x="527" y="4">UniRef100_UPI000..</text></g>
<g transform="translate(0,1605)"><use href="#N"/><rect class="m" x="152" y="-1.5" width="266" height="3"/><use href="#T" x="152"/><use href="#Am" x="418"/><text class="l" x="527" y="4">UniRef100_UPI000..</text></g>
<g transform="translate(0,1616)"><rect class="m" x="142" y="-1.5" width="368" height="3"/><use href="#T" x="142"/><use href="#Am" x="510"/><text class="l" x="527" y="4">UniRef100_UPI000..</text></g>
<g transform="translate(0,1627)"><use href="#N"/><rect class="m" x="158" y="-1.5" width="344" height="3"/><use href="#T" x="158"/><use href="#Am" x="502"/><text class="l" x="527" y="4">UniRef100_C0ZWT7</text></g>
<g transform="translate(0,1638)"><rect class="m" x="158" y="-1.5" width="352" height="3"/><use href="#T" x="158"/><use href="#Am" x="510"/><text class="l" x="527" y="4">UniRef100_C3JGB2</text></g>
<g transform="translate(0,1649)"><use href="#N"/><rect class="m" x="142" y="-1.5" width="368" height="3"/><use href="#T" x="142"/><use href="#Am" x="510"/><text class="l" x="527" y="4">UniRef100_Q8MHW6</text></g>
<g transform="translate(0,1660)"><rect class="m" x="155" y="-1.5" width="355" height="3"/><use href="#T" x="155"/><use href="#Am" x="510"/><text class="l" x="527" y="4">UniRef100_Q1J399</text></g>
<g transform="translate(0,1671)"><use href="#N"/><rect class="m" x="161" y="-1.5" width="257" height="3"/><use href="#T" x="161"/><use href="#Am" x="418"/><text class="l" x="527" y="4">UniRef100_O74409</text></g>
<g transform="translate(0,1682)"><rect class="m" x="142" y="-1.5" width="368" height="3"/><use href="#T" x="142"/><use href="#Am" x="510"/><text class="l" x="527" y="4">UniRef100_UPI000..</text></g>
<g transform="translate(0,1693)"><use href="#N"/><rect class="m" x="199" y="-1.5" width="311" height="3"/><use href="#T" x="199"/><use href="#Am" x="510"/><text class="l" x="527" y="4">UniRef100_Q0SGF5</text></g>
<g transform="translate(0,1704)"><rect class="m" x="40" y="-1.5" width="470" height="3"/><use href="#T" x="40"/><use href="#Am" x="510"/><text class="l" x="527" y="4">UniRef100_A2SXR1</text></g>
<g transform="translate(0,1715)"><use href="#N"/><rect class="g" x="186" y="-1.5" width="232" height="3"/><use href="#T" x="186"/><use href="#Ag" x="418"/><text class="l" x="527" y="4">UniRef100_Q6DG85</text></g>
<g transform="translate(0,1726)"><rect class="m" x="182" y="-1.5" width="328" height="3"/><use href="#T" x="182"/><use href="#Am" x="510"/><text class="l" x="527" y="4">UniRef100_B8IRU1</text></g>
<g transform="translate(0,1737)"><use href="#N"/><rect class="m" x="63" y="-1.5" width="64" height="3"/><use href="#T" x="63"/><use href="#Am" x="127"/><rect class="m" x="155" y="-1.5" width="355" height="3"/><use href="#T" x="155"/><use href="#Am" x="510"/><text class="l" x="527" y="4">UniRef100_B5GK38</text></g>
<g transform="translate(0,1748)"><rect class="m" x="199" y="-1.5" width="311" height="3"/><use href="#T" x="199"/><use href="#Am" x="510"/><text class="l" x="527" y="4">UniRef100_C1AW86</text></g>
<g transform="translate(0,1759)"><use href="#N"/><rect class="m" x="43" y="-1.5" width="467" height="3"/><use href="#T" x="43"/><use href="#Am" x="510"/><text class="l" x="527" y="4">UniRef100_Q4PGU1</text></g>
<g transform="translate(0,1770)"><rect class="m" x="152" y="-1.5" width="358" height="3"/><use href="#T" x="152"/><use href="#Am" x="510"/><text class="l" x="527" y="4">UniRef100_Q4S7B9</text></g>
<g transform="translate(0,1781)"><use href="#N"/><rect class="g" x="186" y="-1.5" width="232" height="3"/><use href="#T" x="186"/><use href="#Ag" x="418"/><text class="l" x="527" y="4">UniRef100_A7SYI1</text></g>
<g transform="translate(0,1792)"><rect class="m" x="142" y="-1.5" width="368" height="3"/><use href="#T" x="142"/><use href="#Am" x="510"/><text class="l" x="527" y="4">UniRef100_Q8MKJ3</text></g>
<g transform="translate(0,1803)"><use href="#N"/><rect class="m" x="158" y="-1.5" width="352" height="3"/><use href="#T" x="158"/><use href="#Am" x="510"/><text class="l" x="527" y="4">UniRef100_A3LMZ3</text></g>
<g transform="translate(0,1814)"><rect class="m" x="63" y="-1.5" width="64" height="3"/><use href="#T" x="63"/><use href="#Am" x="127"/><rect class="m" x="186" y="-1.5" width="324" height="3"/><use href="#T" x="186"/><use href="#Am" x="510"/><text class="l" x="527" y="4">UniRef100_UPI000..</text></g>
<g transform="translate(0,1825)"><use href="#N"/><rect class="m" x="63" y="-1.5" width="64" height="3"/><use href="#T" x="63"/><use href="#Am" x="127"/><rect class="m" x="155" y="-1.5" width="355" height="3"/><use href="#T" x="155"/><use href="#Am" x="510"/><text class="l" x="527" y="4">UniRef100_B5GRN0</text></g>
<g transform="translate(0,1836)"><rect class="m" x="142" y="-1.5" width="368" height="3"/><use href="#T" x="142"/><use href="#Am" x="510"/><text class="l" x="527" y="4">UniRef100_C1BAH3</text></g>
<g transform="translate(0,1847)"><use href="#N"/><rect class="m" x="182" y="-1.5" width="328" height="3"/><use href="#T" x="182"/><use href="#Am" x="510"/><text class="l" x="527" y="4">UniRef100_C4R2A9</text></g>
<g transform="translate(0,1858)"><rect class="m" x="63" y="-1.5" width="93" height="3"/><use href="#T" x="63"/><use href="#Am" x="155"/><rect class="m" x="161" y="-1.5" width="349" height="3"/><use href="#T" x="161"/><use href="#Am" x="510"/><text class="l" x="527" y="4">UniRef100_B8HFX6</text></g>
<g transform="translate(0,1869)"><use href="#N"/><rect class="m" x="152" y="-1.5" width="358" height="3"/><use href="#T" x="152"/><use href="#Am" x="510"/><text class="l" x="527" y="4">UniRef100_UPI000..</text></g>
<g transform="translate(0,1880)"><rect class="m" x="152" y="-1.5" width="358" height="3"/><use href="#T" x="152"/><use href="#Am" x="510"/><text class="l" x="527" y="4">UniRef100_UPI000..</text></g>
<g transform="translate(0,1891)"><use href="#N"/><rect class="m" x="155" y="-1.5" width="355" height="3"/><use href="#T" x="155"/><use href="#Am" x="510"/><text class="l" x="527" y="4">UniRef100_C8XJZ7</text></g>
<g transform="translate(0,1902)"><rect class="m" x="161" y="-1.5" width="349" height="3"/><use href="#T" x="161"/><use href="#Am" x="510"/><text class="l" x="527" y="4">UniRef100_C1RI51</text></g>
<g transform="translate(0,1913)"><use href="#N"/><rect class="m" x="182" y="-1.5" width="328" height="3"/><use href="#T" x="182"/><use href="#Am" x="510"/><text class="l" x="527" y="4">UniRef100_C5E037</text></g>
<g transform="translate(0,1924)"><rect class="m" x="142" y="-1.5" width="368" height="3"/><use href="#T" x="142"/><use href="#Am" x="510"/><text class="l" x="527" y="4">UniRef100_Q0S841</text></g>
<g transform="translate(0,1935)"><use href="#N"/><rect class="m" x="155" y="-1.5" width="355" height="3"/><use href="#T" x="155"/><use href="#Am" x="510"/><text class="l" x="527" y="4">UniRef100_C5E304</text></g>
<g transform="translate(0,1946)"><rect class="m" x="180" y="-1.5" width="330" height="3"/><use href="#T" x="180"/><use href="#Am" x="510"/><text class="l" x="527" y="4">UniRef100_UPI000..</text></g>
<g transform="translate(0,1957)"><use href="#N"/><rect class="m" x="180" y="-1.5" width="330" height="3"/><use href="#T" x="180"/><use href="#Am" x="510"/><text class="l" x="527" y="4">UniRef100_UPI000..</text></g>
<g transform="translate(0,1968)"><rect class="m" x="161" y="-1.5" width="349" height="3"/><use href="#T" x="161"/><use href="#Am" x="510"/><text class="l" x="527" y="4">UniRef100_C4EN30</text></g>
<g transform="translate(0,1979)"><use href="#N"/><rect class="m" x="158" y="-1.5" width="352" height="3"/><use href="#T" x="158"/><use href="#Am" x="510"/><text class="l" x="527" y="4">UniRef100_Q6C2B4</text></g>
<g transform="translate(0,1990)"><rect class="m" x="161" y="-1.5" width="349" height="3"/><use href="#T" x="161"/><use href="#Am" x="510"/><text class="l" x="527" y="4">UniRef100_C6WEX2</text></g>
<g transform="translate(0,2001)"><use href="#N"/><rect class="m" x="186" y="-1.5" width="324" height="3"/><use href="#T" x="186"/><use href="#Am" x="510"/><text class="l" x="527" y="4">UniRef100_Q7Q4K6</text></g>
<g transform="translate(0,2012)"><rect class="m" x="152" y="-1.5" width="283" height="3"/><use href="#T" x="152"/><use href="#Am" x="435"/><text class="l" x="527" y="4">UniRef100_Q3S561</text></g>
<g transform="translate(0,2023)"><use href="#N"/><rect class="m" x="210" y="-1.5" width="259" height="3"/><use href="#T" x="210"/><use href="#Am" x="469"/><text class="l" x="527" y="4">UniRef100_B7G8Q2</text></g>
<g transform="translate(0,2034)"><rect class="m" x="161" y="-1.5" width="349" height="3"/><use href="#T" x="161"/><use href="#Am" x="510"/><text class="l" x="527" y="4">UniRef100_UPI000..</text></g>
<g transform="translate(0,2045)"><use href="#N"/><rect class="m" x="152" y="-1.5" width="358" height="3"/><use href="#T" x="152"/><use href="#Am" x="510"/><text class="l" x="527" y="4">UniRef100_C3UZW8</text></g>
<g transform="translate(0,2056)"><rect class="m" x="186" y="-1.5" width="324" height="3"/><use href="#T" x="186"/><use href="#Am" x="510"/><text class="l" x="527" y="4">UniRef100_Q17J02</text></g>
<g transform="translate(0,2067)"><use href="#N"/><rect class="m" x="54" y="-1.5" width="73" height="3"/><use href="#T" x="54"/><use href="#Am" x="127"/><rect class="m" x="155" y="-1.5" width="355" height="3"/><use href="#T" x="155"/><use href="#Am" x="510"/><text class="l" x="527" y="4">UniRef100_UPI000..</text></g>
<g transform="translate(0,2078)"><rect class="m" x="63" y="-1.5" width="64" height="3"/><use href="#T" x="63"/><use href="#Am" x="127"/><rect class="m" x="155" y="-1.5" width="355" height="3"/><use href="#T" x="155"/><use href="#Am" x="510"/><text class="l" x="527" y="4">UniRef100_B5HRQ5</text></g>
<g transform="translate(0,2089)"><use href="#N"/><rect class="m" x="186" y="-1.5" width="232" height="3"/><use href="#T" x="186"/><use href="#Am" x="418"/><text class="l" x="527" y="4">UniRef100_B0W8Y2</text></g>
<g transform="translate(0,2100)"><rect class="m" x="186" y="-1.5" width="324" height="3"/><use href="#T" x="186"/><use href="#Am" x="510"/><text class="l" x="527" y="4">UniRef100_UPI000..</text></g>
<g transform="translate(0,2111)"><use href="#N"/><rect class="m" x="155" y="-1.5" width="355" height="3"/><use href="#T" x="155"/><use href="#Am" x="510"/><text class="l" x="527" y="4">UniRef100_C9ZGK9</text></g>
<g transform="translate(0,2122)"><rect class="m" x="186" y="-1.5" width="324" height="3"/><use href="#T" x="186"/><use href="#Am" x="510"/><text class="l" x="527" y="4">UniRef100_B4M6K8</text></g>
<g transform="translate(0,2133)"><use href="#N"/><rect class="m" x="63" y="-1.5" width="64" height="3"/><use href="#T" x="63"/><use href="#Am" x="127"/><rect class="m" x="155" y="-1.5" width="355" height="3"/><use href="#T" x="155"/><use href="#Am" x="510"/><text class="l" x="527" y="4">UniRef100_UPI000..</text></g>
<g transform="translate(0,2144)"><rect class="m" x="152" y="-1.5" width="358" height="3"/><use href="#T" x="152"/><use href="#Am" x="510"/><text class="l" x="527" y="4">UniRef100_C1EID1</text></g>
<g transform="translate(0,2155)"><use href="#N"/><rect class="m" x="186" y="-1.5" width="324" height="3"/><use href="#T" x="186"/><use href="#Am" x="510"/><text class="l" x="527" y="4">UniRef100_P16163</text></g>
<g transform="translate(0,2166)"><rect class="m" x="161" y="-1.5" width="349" height="3"/><use href="#T" x="161"/><use href="#Am" x="510"/><text class="l" x="527" y="4">UniRef100_UPI000..</text></g>
<g transform="translate(0,2177)"><use href="#N"/><rect class="m" x="186" y="-1.5" width="324" height="3"/><use href="#T" x="186"/><use href="#Am" x="510"/><text class="l" x="527" y="4">UniRef100_B4Q5T2</text></g>
<g transform="translate(0,2188)"><rect class="m" x="186" y="-1.5" width="324" height="3"/><use href="#T" x="186"/><use href="#Am" x="510"/><text class="l" x="527" y="4">UniRef100_B4N0V0</text></g>
<g transform="translate(0,2199)"><use href="#N"/><rect class="m" x="186" y="-1.5" width="324" height="3"/><use href="#T" x="186"/><use href="#Am" x="510"/><text class="l" x="527" y="4">UniRef100_B4N0U8</text></g>
<g transform="translate(0,2210)"><rect class="m" x="186" y="-1.5" width="324" height="3"/><use href="#T" x="186"/><use href="#Am" x="510"/><text class="l" x="527" y="4">UniRef100_B4HYA0</text></g>
<g transform="translate(0,2221)"><use href="#N"/><rect class="m" x="186" y="-1.5" width="324" height="3"/><use href="#T" x="186"/><use href="#Am" x="510"/><text class="l" x="527" y="4">UniRef100_C0U015</text></g>
<g transform="translate(0,2232)"><rect class="m" x="186" y="-1.5" width="324" height="3"/><use href="#T" x="186"/><use href="#Am" x="510"/><text class="l" x="527" y="4">UniRef100_P23194</text></g>
<g transform="translate(0,2243)"><use href="#N"/><rect class="m" x="155" y="-1.5" width="355" height="3"/><use href="#T" x="155"/><use href="#Am" x="510"/><text class="l" x="527" y="4">UniRef100_C4DPL0</text></g>
<g transform="translate(0,2254)"><rect class="g" x="186" y="-1.5" width="206" height="3"/><use href="#T" x="186"/><use href="#Ag" x="392"/><text class="l" x="527" y="4">UniRef100_B3MJN3</text></g>
<g transform="translate(0,2265)"><use href="#N"/><rect class="g" x="186" y="-1.5" width="198" height="3"/><use href="#T" x="186"/><use href="#Ag" x="384"/><text class="l" x="527" y="4">UniRef100_B4NZH1</text></g>
<g transform="translate(0,2276)"><rect class="g" x="186" y="-1.5" width="198" height="3"/><use href="#T" x="186"/><use href="#Ag" x="384"/><text class="l" x="527" y="4">UniRef100_B3N6N5</text></g>
<g transform="translate(0,2287)"><use href="#N"/><rect class="m" x="100" y="-1.5" width="410" height="3"/><use href="#T" x="100"/><use href="#Am" x="510"/><text class="l" x="527" y="4">UniRef100_Q6CNP7</text></g>
<g transform="translate(0,2298)"><rect class="m" x="182" y="-1.5" width="236" height="3"/><use href="#T" x="182"/><use href="#Am" x="418"/><text class="l" x="527" y="4">UniRef100_B6K6G8</text></g>
<g transform="translate(0,2309)"><use href="#N"/><rect class="m" x="186" y="-1.5" width="324" height="3"/><use href="#T" x="186"/><use href="#Am" x="510"/><text class="l" x="527" y="4">UniRef100_Q56RC7</text></g>
<g transform="translate(0,2320)"><rect class="m" x="186" y="-1.5" width="324" height="3"/><use href="#T" x="186"/><use href="#Am" x="510"/><text class="l" x="527" y="4">UniRef100_B4K8G4</text></g>
<g transform="translate(0,2331)"><use href="#N"/><rect class="m" x="186" y="-1.5" width="324" height="3"/><use href="#T" x="186"/><use href="#Am" x="510"/><text class="l" x="527" y="4">UniRef100_B4G8E6</text></g>
<g transform="translate(0,2342)"><rect class="m" x="186" y="-1.5" width="324" height="3"/><use href="#T" x="186"/><use href="#Am" x="510"/><text class="l" x="527" y="4">UniRef100_P22673</text></g>
<g transform="translate(0,2353)"><use href="#N"/><rect class="m" x="152" y="-1.5" width="266" height="3"/><use href="#T" x="152"/><use href="#Am" x="418"/><text class="l" x="527" y="4">UniRef100_Q3S562</text></g>
<g transform="translate(0,2364)"><rect class="m" x="186" y="-1.5" width="324" height="3"/><use href="#T" x="186"/><use href="#Am" x="510"/><text class="l" x="527" y="4">UniRef100_O44111</text></g>
<g transform="translate(0,2375)"><use href="#N"/><rect class="m" x="161" y="-1.5" width="349" height="3"/><use href="#T" x="161"/><use href="#Am" x="510"/><text class="l" x="527" y="4">UniRef100_C4RL78</text></g>
<g transform="translate(0,2386)"><rect class="m" x="186" y="-1.5" width="324" height="3"/><use href="#T" x="186"/><use href="#Am" x="510"/><text class="l" x="527" y="4">UniRef100_B4JEU8</text></g>
<g transform="translate(0,2397)"><use href="#N"/><rect class="g" x="69" y="-1.5" width="84" height="3"/><use href="#T" x="69"/><use href="#Ag" x="153"/><rect class="m" x="229" y="-1.5" width="281" height="3"/><use href="#T" x="229"/><use href="#Am" x="510"/><text class="l" x="527" y="4">UniRef100_UPI000..</text></g>
<g transform="translate(0,2408)"><rect class="m" x="161" y="-1.5" width="349" height="3"/><use href="#T" x="161"/><use href="#Am" x="510"/><text class="l" x="527" y="4">UniRef100_Q5YNZ7</text></g>
<g transform="translate(0,2419)"><use href="#N"/><rect class="m" x="155" y="-1.5" width="355" height="3"/><use href="#T" x="155"/><use href="#Am" x="510"/><text class="l" x="527" y="4">UniRef100_Q82LJ2</text></g>
<g transform="translate(0,2430)"><rect class="g" x="186" y="-1.5" width="198" height="3"/><use href="#T" x="186"/><use href="#Ag" x="384"/><text class="l" x="527" y="4">UniRef100_Q56RC9</text></g>
<g transform="translate(0,2441)"><use href="#N"/><rect class="m" x="63" y="-1.5" width="64" height="3"/><use href="#T" x="63"/><use href="#Am" x="127"/><rect class="m" x="155" y="-1.5" width="355" height="3"/><use href="#T" x="155"/><use href="#Am" x="510"/><text class="l" x="527" y="4">UniRef100_B5HFQ6</text></g>
<g transform="translate(0,2452)"><rect class="m" x="63" y="-1.5" width="64" height="3"/><use href="#T" x="63"/><use href="#Am" x="127"/><rect class="m" x="155" y="-1.5" width="355" height="3"/><use href="#T" x="155"/><use href="#Am" x="510"/><text class="l" x="527" y="4">UniRef100_UPI000..</text></g>
<g transform="translate(0,2463)"><use href="#N"/><rect class="m" x="63" y="-1.5" width="64" height="3"/><use href="#T" x="63"/><use href="#Am" x="127"/><rect class="m" x="155" y="-1.5" width="355" height="3"/><use href="#T" x="155"/><use href="#Am" x="510"/><text class="l" x="527" y="4">UniRef100_Q8CJN8</text></g>
<g transform="translate(0,2474)"><rect class="m" x="63" y="-1.5" width="64" height="3"/><use href="#T" x="63"/><use href="#Am" x="127"/><rect class="m" x="155" y="-1.5" width="355" height="3"/><use href="#T" x="155"/><use href="#Am" x="510"/><text class="l" x="527" y="4">UniRef100_C9NEY4</text></g>
<g transform="translate(0,2485)"><use href="#N"/><rect class="m" x="155" y="-1.5" width="355" height="3"/><use href="#T" x="155"/><use href="#Am" x="510"/><text class="l" x="527" y="4">UniRef100_C7PZT3</text></g>
<g transform="translate(0,2496)"><rect class="m" x="63" y="-1.5" width="64" height="3"/><use href="#T" x="63"/><use href="#Am" x="127"/><rect class="m" x="155" y="-1.5" width="355" height="3"/><use href="#T" x="155"/><use href="#Am" x="510"/><text class="l" x="527" y="4">UniRef100_UPI000..</text></g>
<g transform="translate(0,2507)"><use href="#N"/><rect class="m" x="180" y="-1.5" width="330" height="3"/><use href="#T" x="180"/><use href="#Am" x="510"/><text class="l" x="527" y="4">UniRef100_C1BS10</text></g>
<g transform="translate(0,2518)"><rect class="m" x="232" y="-1.5" width="278" height="3"/><use href="#T" x="232"/><use href="#Am" x="510"/><text class="l" x="527" y="4">UniRef100_Q75QK6</text></g>
<g transform="translate(0,2529)"><use href="#N"/><rect class="m" x="155" y="-1.5" width="355" height="3"/><use href="#T" x="155"/><use href="#Am" x="510"/><text class="l" x="527" y="4">UniRef100_B1VVF4</text></g>
<g transform="translate(0,2540)"><rect class="m" x="198" y="-1.5" width="312" height="3"/><use href="#T" x="198"/><use href="#Am" x="510"/><text class="l" x="527" y="4">UniRef100_A1SFS3</text></g>
<g transform="translate(0,2551)"><use href="#N"/><rect class="m" x="219" y="-1.5" width="291" height="3"/><use href="#T" x="219"/><use href="#Am" x="510"/><text class="l" x="527" y="4">UniRef100_Q3S560</text></g>

<!-- footer -->
<text x="8" y="2572" font-size="10">Large gaps:<tspan style="fill:#ffff80">▲</tspan>(in Query)/<tspan style="fill:#00c0c0">-</tspan> (in Subject)</text>
<rect x="439" y="2564" width="1" height="8" fill="#fff"/>
<rect x="440" y="2566" width="16" height="3" fill="#00c0c0"/>
<rect x="456" y="2564" width="1" height="8" fill="#fff"/>
<text x="459" y="2572" font-size="10">=100char.</text>
</svg>
</body></html>
